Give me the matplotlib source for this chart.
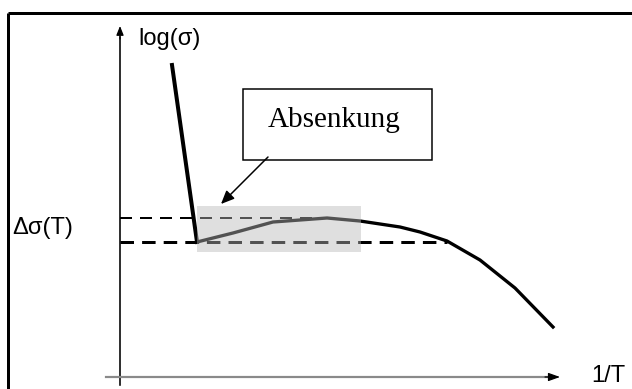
import matplotlib
matplotlib.use("Agg")
import matplotlib.pyplot as plt
from matplotlib.patches import Rectangle

# ---- data (schematic units: x = 1/T, y = log(sigma)) ----
steep_x = [52, 77]
steep_y = [312, 135]
curve_x = [77, 113, 153, 207, 240, 280, 300, 327, 360, 395, 433]
curve_y = [135, 144, 155, 159, 156, 150, 145, 136, 117, 89, 50]
delta_upper = 159
delta_lower = 135
upper_end_x = 207
lower_end_x = 327
shade_x = [77, 241]
shade_y = [125, 171]
x_label = "1/T"
y_label = "log(σ)"
delta_label = "Δσ(T)"
box_text = "Absenkung"

fig = plt.figure(figsize=(6.32, 3.89), dpi=100)
ax = fig.add_axes([0, 0, 1, 1])
ax.set_xlim(-120, 512)
ax.set_ylim(-12, 377)
ax.axis("off")

px = 0.72  # points per pixel

# frame (top and left)
ax.plot([-112, 512], [364, 364], color="black", lw=3 * px, solid_capstyle="butt")
ax.plot([-112, -112], [364, -12], color="black", lw=3 * px, solid_capstyle="butt")

# axes
ax.plot([0, 0], [-8, 340], color="black", lw=1.6 * px)
ax.annotate("", xy=(0, 351), xytext=(0, 338),
            arrowprops=dict(arrowstyle="-|>,head_length=0.55,head_width=0.22",
                            color="black", lw=1.2 * px, shrinkA=0, shrinkB=0))
ax.plot([-14, 430], [0, 0], color="#8a8a8a", lw=2.2 * px)
ax.annotate("", xy=(440, 0), xytext=(425, 0),
            arrowprops=dict(arrowstyle="-|>,head_length=0.7,head_width=0.25",
                            color="black", lw=1.2 * px, shrinkA=0, shrinkB=0))

# dashed reference lines
ax.plot([0, upper_end_x], [delta_upper, delta_upper], color="black",
        lw=2 * px, dashes=(6, 4))
ax.plot([0, lower_end_x], [delta_lower, delta_lower], color="black",
        lw=3 * px, dashes=(4.5, 2.7))

# curve
ax.plot(steep_x, steep_y, color="black", lw=4 * px, solid_joinstyle="miter")
ax.plot(curve_x, curve_y, color="black", lw=3.3 * px, solid_joinstyle="round")

# shaded region overlay
ax.add_patch(Rectangle((shade_x[0], shade_y[0]), shade_x[1] - shade_x[0],
                       shade_y[1] - shade_y[0], facecolor="#b8b8b8",
                       edgecolor="none", alpha=0.45, zorder=5))

# annotation box and arrow
ax.add_patch(Rectangle((123, 217), 189, 71, facecolor="white",
                       edgecolor="black", lw=1.5 * px, zorder=6))
ax.text(214, 250, box_text, ha="center", va="baseline",
        family="Liberation Serif", fontsize=21, zorder=7)
ax.annotate("", xy=(101, 173), xytext=(148, 220),
            arrowprops=dict(arrowstyle="-|>,head_length=0.8,head_width=0.35",
                            color="black", lw=1.5 * px, shrinkA=0, shrinkB=0),
            zorder=7)

# labels
ax.text(18, 338, y_label, ha="left", va="center", family="Liberation Sans",
        fontsize=17)
ax.text(-108, 149, delta_label, ha="left", va="center", family="Liberation Sans",
        fontsize=17)
ax.text(471, -10, x_label, ha="left", va="bottom", family="Liberation Sans",
        fontsize=17)

fig.savefig("out.png", dpi=100)
